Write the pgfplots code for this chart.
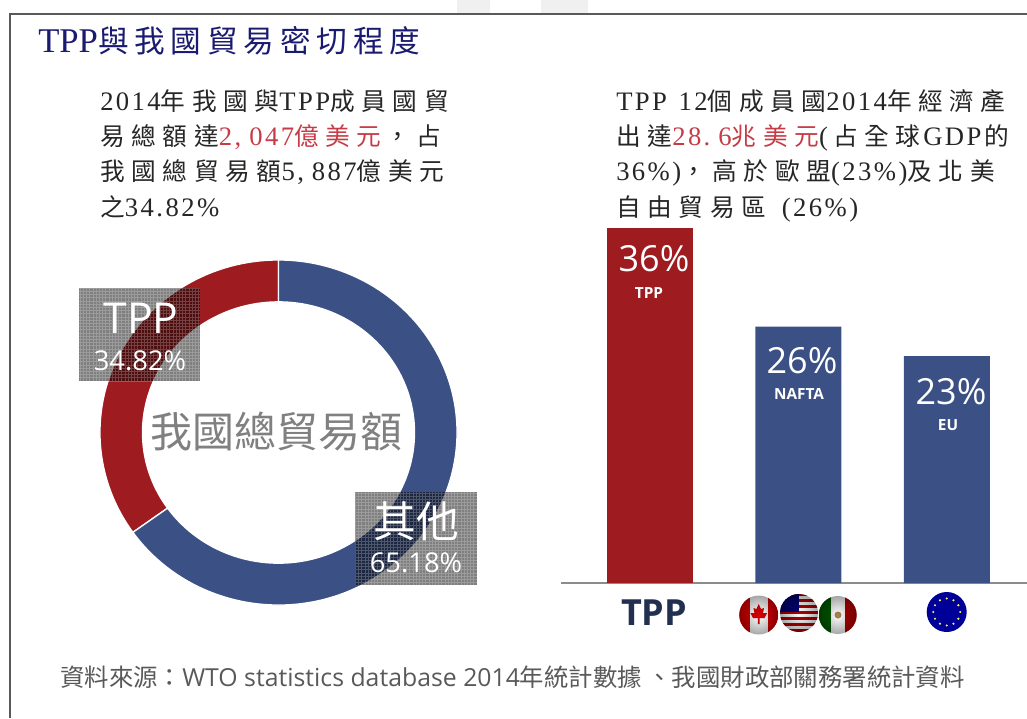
\documentclass[border=0pt]{standalone}
\usepackage{fontspec}
\usepackage{pgfplots}
\usetikzlibrary{fadings}
\pgfplotsset{compat=1.18}
\setmainfont{Liberation Serif}
\newfontfamily\cjk[LetterSpace=27]{Noto Sans CJK TC}
\newfontfamily\cjkt[LetterSpace=19]{Noto Sans CJK TC}
\newfontfamily\ser[LetterSpace=9]{Liberation Serif}
\newfontfamily\sertitle{Liberation Serif}
\newfontfamily\sanscjk{Noto Sans CJK TC}
\newfontfamily\op{Open Sans}
\definecolor{cred}{HTML}{9E1B20}
\definecolor{cblue}{HTML}{3B5085}
\definecolor{tred}{HTML}{C63C46}
\definecolor{navy}{HTML}{1A1A70}
\definecolor{dnavy}{HTML}{22304F}
\newcommand{\C}[1]{{\fontsize{18.5}{20}\cjk #1}}
\newcommand{\Lt}[1]{{\fontsize{20}{20}\ser #1}}
\newcommand{\K}{\kern6pt}
\tikzfading[name=edge,inner color=transparent!100,outer color=transparent!0]
\begin{document}
\begin{tikzpicture}
\useasboundingbox (0,0) rectangle (770.25pt,-538.5pt);
\def\tppshare{34.82}
\def\othershare{65.18}
\pgfmathsetmacro\bd{90+3.6*\tppshare}
\pgfmathsetmacro\be{\bd+3.6*\othershare}
% donut
\begin{axis}[at={(0pt,-538.5pt)},anchor=south west,scale only axis,width=770.25pt,height=538.5pt,
 xmin=0,xmax=1027,ymin=0,ymax=718,y dir=reverse,hide axis,clip=false]
\addplot[draw=none] coordinates {(0,0)(1027,718)};
\begin{scope}[shift={(axis cs:278.5,432.5)}]
\fill[cred,draw=white,line width=1pt] (90:133.9pt and 129.4pt) arc[start angle=90,end angle=\bd,x radius=133.9pt,y radius=129.4pt]
 -- (\bd:102pt and 98pt) arc[start angle=\bd,end angle=90,x radius=102pt,y radius=98pt] -- cycle;
\fill[cblue,draw=white,line width=1pt] (\bd:133.9pt and 129.4pt) arc[start angle=\bd,end angle=\be,x radius=133.9pt,y radius=129.4pt]
 -- (\be:102pt and 98pt) arc[start angle=\be,end angle=\bd,x radius=102pt,y radius=98pt] -- cycle;
\end{scope}
\fill[black,opacity=.5] (axis cs:79,288) rectangle (axis cs:200,381);
\draw[white,opacity=.22,line width=.45pt,step=2.4pt] (axis cs:79,288) grid (axis cs:200,381);
\fill[black,opacity=.5] (axis cs:355,492) rectangle (axis cs:477,585);
\draw[white,opacity=.22,line width=.45pt,step=2.4pt] (axis cs:355,492) grid (axis cs:477,585);
\end{axis}
% bars
\begin{axis}[at={(420.75pt,-437.25pt)},anchor=south west,scale only axis,width=349.5pt,height=270pt,
 xmin=-0.6,xmax=2.54,ymin=0,ymax=36.507,
 axis y line=none,axis x line=bottom,
 axis line style={-,draw=black!45,line width=2.2pt},
 xtick={0,1,2},xticklabels={TPP,,},major tick length=0pt,
 xticklabel style={font=\fontsize{27}{28}\op\bfseries,text=dnavy,yshift=-9pt,xshift=3pt},
 ybar,bar width=64.5pt,clip=false]
\addplot[draw=none,fill=cred,bar shift=0pt] coordinates {(0,36)};
\addplot[draw=none,fill=cblue,bar shift=0pt] coordinates {(1,26)(2,23)};
\end{axis}
\begin{scope}[x=0.75pt,y=-0.75pt]
% frame
\fill[gray!12] (457,0) rectangle (490,13);
\fill[gray!12] (541,0) rectangle (588,13);
\draw[black!65,line width=1.1pt] (10,718) -- (10,14) -- (1027,14);
% title
\node[anchor=base west,inner sep=0,text=navy] at (38,52) {{\fontsize{26}{26}\sertitle TPP}{\fontsize{23}{24}\cjkt 與我國貿易密切程度}};
% left text
\node[anchor=base west,inner sep=0,text=black!85] at (100,110) {\Lt{2014}\C{年我國與}\Lt{TPP}\C{成員國貿}};
\node[anchor=base west,inner sep=0,text=black!85] at (100,145) {\C{易總額達}\textcolor{tred}{\Lt{2,\K 047}\C{億美元}}\kern3pt\C{，占}};
\node[anchor=base west,inner sep=0,text=black!85] at (100,180) {\C{我國總貿易額}\Lt{5,\K 887}\C{億美元}};
\node[anchor=base west,inner sep=0,text=black!85] at (100,216) {\C{之}\Lt{34.\kern2pt 82\%}};
% right text
\node[anchor=base west,inner sep=0,text=black!85] at (616,110) {\Lt{TPP \kern2pt 12}\C{個成員國}\Lt{2014}\C{年經濟產}};
\node[anchor=base west,inner sep=0,text=black!85] at (616,145) {\C{出達}\textcolor{tred}{\Lt{28.\K 6}\C{兆美元}}\Lt{(\kern4pt}\C{占全球}\Lt{\kern2pt GDP}\kern2pt\C{的}};
\node[anchor=base west,inner sep=0,text=black!85] at (616,180) {\Lt{36\%)}\C{，高於歐盟}\Lt{(23\%)}\C{及北美}};
\node[anchor=base west,inner sep=0,text=black!85] at (616,216) {\C{自由貿易區}\Lt{ \kern5pt(26\%)}};
% donut labels
\node[text=black!50,inner sep=0] at (276,432) {\fontsize{31.5}{32}\sanscjk 我國總貿易額};
\node[text=white,inner sep=0] at (141,318) {\fontsize{32}{32}\op TPP};
\node[text=white,inner sep=0] at (140,361) {\fontsize{20.5}{21}\op 34.82\%};
\node[text=white,inner sep=0] at (416,521) {\fontsize{32}{32}\sanscjk 其他};
\node[text=white,inner sep=0] at (416,563) {\fontsize{20.5}{21}\op 65.18\%};
% bar labels
\node[text=white,inner sep=0] at (654,259) {\fontsize{27}{28}\op 36\%};
\node[text=white,inner sep=0] at (649,293) {\fontsize{11.5}{12}\op\bfseries TPP};
\node[text=white,inner sep=0] at (802,361) {\fontsize{27}{28}\op 26\%};
\node[text=white,inner sep=0] at (799,394) {\fontsize{11.5}{12}\op\bfseries NAFTA};
\node[text=white,inner sep=0] at (951,392) {\fontsize{27}{28}\op 23\%};
\node[text=white,inner sep=0] at (948,425) {\fontsize{11.5}{12}\op\bfseries EU};
% flags
\begin{scope}
\clip (758.7,615) circle[radius=19.5];
\fill[white] (739,595) rectangle (779,635);
\fill[red!85!black] (739,595) rectangle (749.5,635);
\fill[red!85!black] (768,595) rectangle (779,635);
\fill[red!85!black] (758.7,604) -- (761,609) -- (764,608) -- (763,613) -- (767,613) -- (764.5,618) -- (759.5,618) -- (759.5,624) -- (757.9,624) -- (757.9,618) -- (752.9,618) -- (750.4,613) -- (754.4,613) -- (753.4,608) -- (756.4,609) -- cycle;
\end{scope}
\fill[black,opacity=.35,path fading=edge] (758.7,615) circle[radius=19.5];
\begin{scope}
\clip (837.7,615) circle[radius=19];
\fill[white] (818,595) rectangle (858,635);
\fill[green!35!black] (818,595) rectangle (831,635);
\fill[red!70!black] (845,595) rectangle (858,635);
\fill[brown!70!gray] (838,615) circle[radius=3.5];
\end{scope}
\fill[black,opacity=.35,path fading=edge] (837.7,615) circle[radius=19];
\begin{scope}
\fill[white] (799,613) circle[radius=20];
\clip (799,613) circle[radius=19];
\fill[white] (779,593) rectangle (819,633);
\foreach \yy in {595,601,607,613,619,625,631} \fill[red!70!black] (779,\yy-2) rectangle (819,\yy+1);
\fill[blue!45!black] (779,593) rectangle (799,612);
\end{scope}
\fill[black,opacity=.35,path fading=edge] (799,613) circle[radius=19];
\fill[blue!60!black] (946.7,612) circle[radius=20];
\foreach \ang in {0,30,...,330} \fill[yellow!60!white] (946.7,612) ++(\ang:13.5) circle[radius=1.2];
% source
\node[anchor=base west,inner sep=0,text=black!65] at (60,686) {\fontsize{18.3}{20}\sanscjk 資料來源：\fontsize{18.6}{20}\op WTO statistics database 2014\fontsize{18.3}{20}\sanscjk 年統計數據 、我國財政部關務署統計資料};
\end{scope}
\end{tikzpicture}
\end{document}
